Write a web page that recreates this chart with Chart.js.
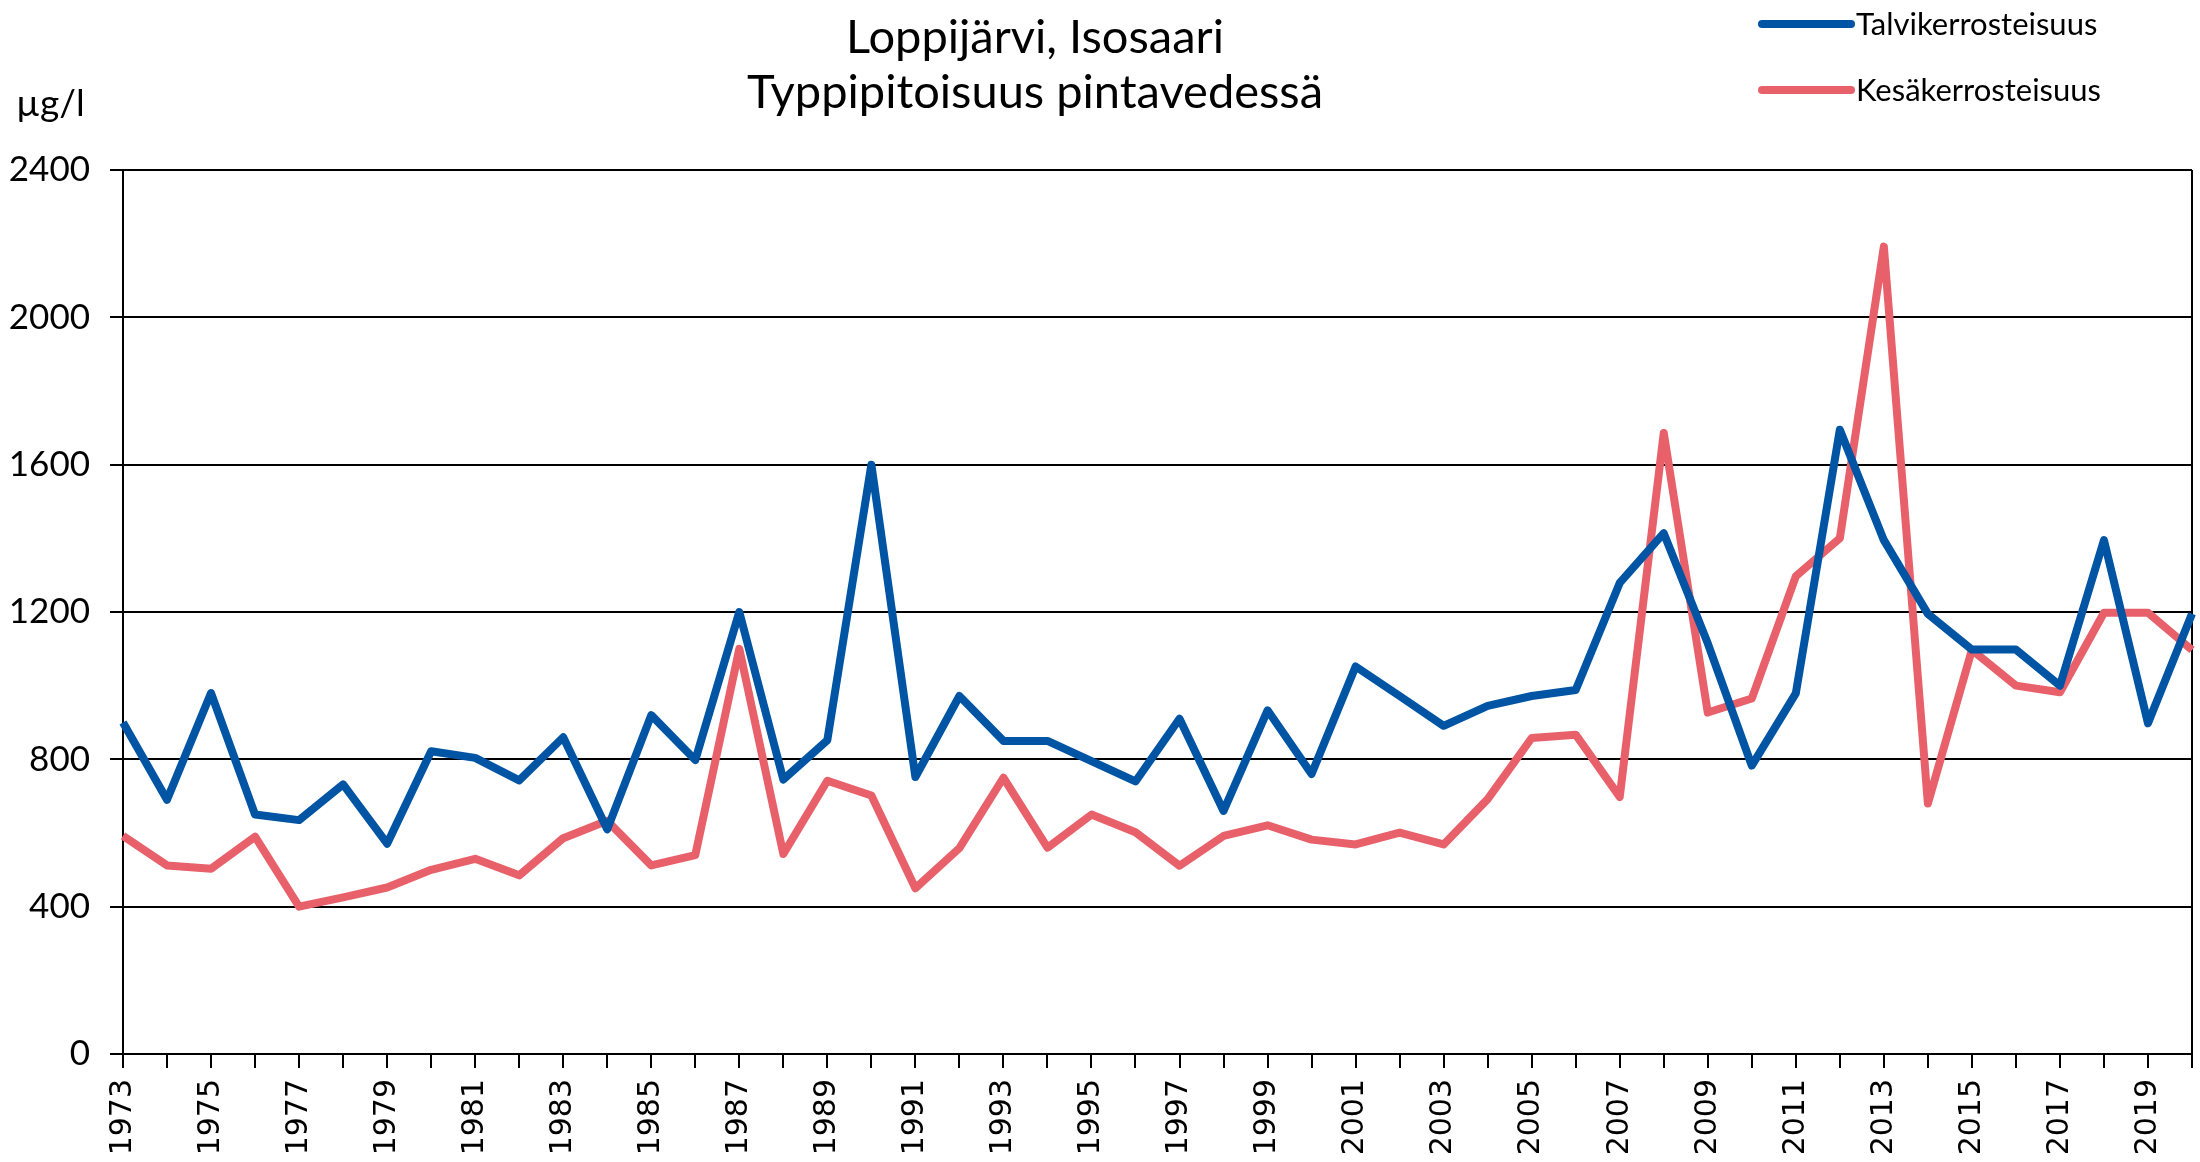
<!DOCTYPE html>
<html>
<head>
<meta charset="utf-8">
<script src="https://cdn.jsdelivr.net/npm/chart.js@4/dist/chart.umd.min.js"></script>
<style>
  html, body { margin: 0; padding: 0; background: #fff; }
  #wrap { width: 2200px; height: 1162px; position: relative; }
</style>
</head>
<body>
<div id="wrap"><canvas id="c" width="2200" height="1162"></canvas></div>
<script>
const titleLines = ["Loppijärvi, Isosaari", "Typpipitoisuus pintavedessä"];
const unitLabel = "µg/l";
const years = ["1973","1974","1975","1976","1977","1978","1979","1980","1981","1982",
  "1983","1984","1985","1986","1987","1988","1989","1990","1991","1992",
  "1993","1994","1995","1996","1997","1998","1999","2000","2001","2002",
  "2003","2004","2005","2006","2007","2008","2009","2010","2011","2012",
  "2013","2014","2015","2016","2017","2018","2019","2020"];
const talviLabel = "Talvikerrosteisuus";
const talvi = [900, 690, 980, 650, 635, 732, 571, 822, 804, 743,
  860, 610, 920, 798, 1200, 745, 852, 1600, 752, 972,
  850, 850, 795, 740, 910, 660, 933, 760, 1052, 972,
  891, 945, 972, 988, 1279, 1414, 1115, 783, 979, 1695,
  1395, 1195, 1098, 1098, 1000, 1395, 898, 1195];
const kesaLabel = "Kesäkerrosteisuus";
const kesa = [592, 512, 503, 590, 400, 425, 452, 500, 530, 485,
  586, 633, 512, 540, 1100, 543, 742, 702, 450, 559,
  750, 560, 650, 602, 511, 592, 621, 582, 569, 601,
  569, 692, 858, 867, 698, 1686, 927, 965, 1297, 1400,
  2192, 680, 1097, 1000, 982, 1198, 1198, 1097];
const yTicks = [0, 400, 800, 1200, 1600, 2000, 2400];

const BLUE = "rgb(0,84,164)";
const RED = "rgb(232,97,106)";

const overlayPlugin = {
  id: "overlay",
  afterDraw(chart) {
    const ctx = chart.ctx;
    ctx.save();
    ctx.fillStyle = "#000";
    // title
    ctx.font = "47px Lato";
    ctx.textAlign = "center";
    ctx.textBaseline = "middle";
    ctx.fillText(titleLines[0], 1035, 38);
    ctx.fillText(titleLines[1], 1035, 93);
    // unit label
    ctx.font = "37px Lato";
    ctx.textAlign = "left";
    ctx.fillText(unitLabel, 16, 104);
    // legend
    const rows = [24, 90];
    chart.data.datasets.forEach((ds, i) => {
      const y = rows[i];
      ctx.strokeStyle = ds.borderColor;
      ctx.lineWidth = 8;
      ctx.lineCap = "round";
      ctx.beginPath();
      ctx.moveTo(1762, y);
      ctx.lineTo(1851, y);
      ctx.stroke();
      ctx.fillStyle = "#000";
      ctx.font = "31px Lato";
      ctx.textAlign = "left";
      ctx.textBaseline = "middle";
      ctx.fillText(ds.label, 1856, y + 1);
    });
    ctx.restore();
  }
};

new Chart(document.getElementById("c"), {
  type: "line",
  data: {
    labels: years,
    datasets: [
      { label: talviLabel, data: talvi, borderColor: BLUE, backgroundColor: BLUE,
        borderWidth: 8, borderJoinStyle: "round", pointRadius: 0, tension: 0, fill: false },
      { label: kesaLabel, data: kesa, borderColor: RED, backgroundColor: RED,
        borderWidth: 8, borderJoinStyle: "round", pointRadius: 0, tension: 0, fill: false }
    ]
  },
  options: {
    responsive: false,
    animation: false,
    devicePixelRatio: 1,
    layout: { padding: { left: 0, right: 8, top: 170, bottom: 0 } },
    plugins: {
      legend: { display: false },
      tooltip: { enabled: false },
      title: { display: false }
    },
    scales: {
      x: {
        type: "category",
        offset: false,
        border: { display: true, color: "#000", width: 2 },
        grid: {
          drawOnChartArea: true,
          drawTicks: true,
          tickLength: 14,
          tickColor: "#000",
          lineWidth: 2,
          color: (c) => (c.index === years.length - 1 ? "#000" : "rgba(0,0,0,0)")
        },
        ticks: {
          autoSkip: false,
          maxRotation: 90,
          minRotation: 90,
          padding: 11,
          color: "#000",
          font: { family: "DejaVu Sans", size: 30 },
          callback: function (value, index) {
            const lbl = years[index];
            return (parseInt(lbl, 10) % 2 === 1) ? lbl : "";
          }
        },
        afterFit(scale) {
          scale.height = 108;
          scale.paddingLeft = 0;
          scale.paddingRight = 0;
        }
      },
      y: {
        min: 0,
        max: 2400,
        border: { display: true, color: "#000", width: 2 },
        grid: { color: "#000", lineWidth: 2, tickLength: 13, drawTicks: true },
        afterBuildTicks(scale) {
          scale.ticks = yTicks.map(v => ({ value: v }));
        },
        ticks: {
          padding: 20,
          color: "#000",
          font: { family: "Lato", size: 35 },
          callback: (v) => String(v)
        },
        afterFit(scale) {
          scale.width = 123;
          scale.paddingTop = 0;
        }
      }
    }
  },
  plugins: [overlayPlugin]
});
</script>
</body>
</html>
